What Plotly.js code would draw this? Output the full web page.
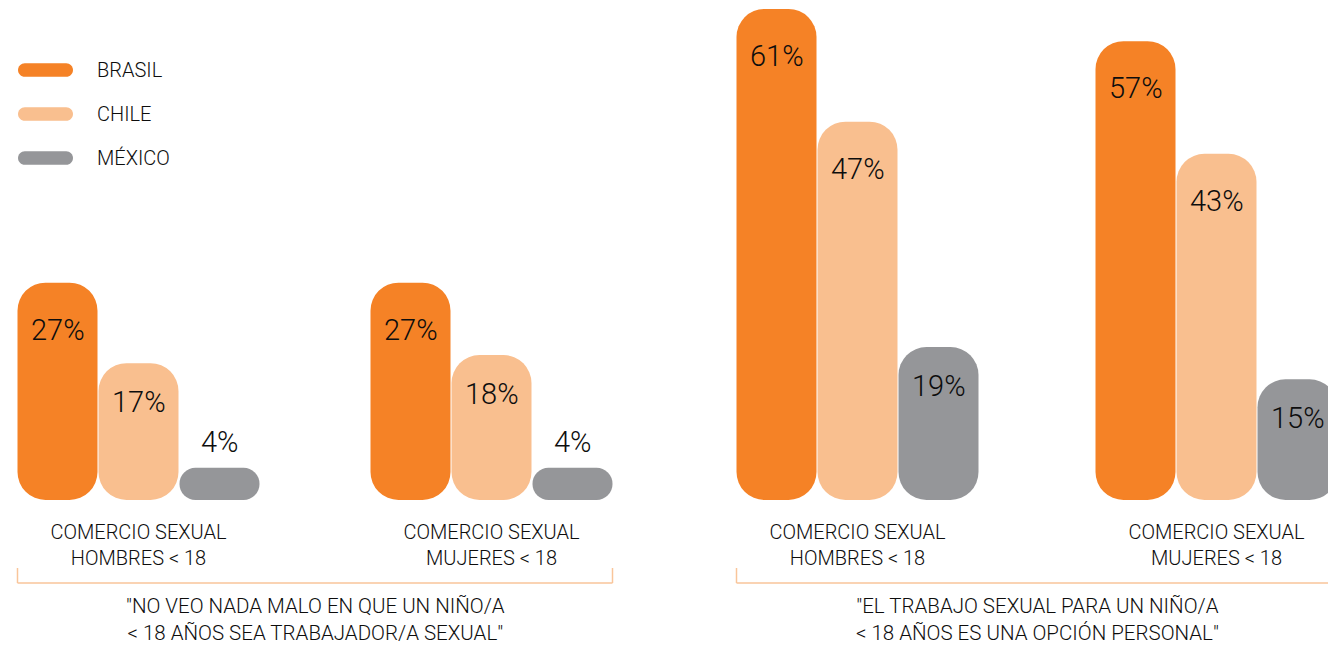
<!DOCTYPE html>
<html><head><meta charset="utf-8">
<script src="https://cdn.plot.ly/plotly-3.0.1.min.js"></script>
<style>html,body{margin:0;padding:0;background:#fff;}#chart{width:1328px;height:647px;}</style>
</head><body><div id="chart"></div>
<script>
// ---- data ----
const countries = ['BRASIL', 'CHILE', 'MÉXICO'];
const groupLabels = ['COMERCIO SEXUAL<br>HOMBRES &lt; 18', 'COMERCIO SEXUAL<br>MUJERES &lt; 18'];
const panelTitles = [
  '"NO VEO NADA MALO EN QUE UN NIÑO/A<br>&lt; 18 AÑOS SEA TRABAJADOR/A SEXUAL"',
  '"EL TRABAJO SEXUAL PARA UN NIÑO/A<br>&lt; 18 AÑOS ES UNA OPCIÓN PERSONAL"'
];
const brasilNoVeo = [27, 27];
const chileNoVeo = [17, 18];
const mexicoNoVeo = [4, 4];
const brasilOpcion = [61, 57];
const chileOpcion = [47, 43];
const mexicoOpcion = [19, 15];

// ---- style / layout ----
const colors = ['#F58226', '#F9BF8F', '#959699'];
const textColor = '#0d0d0d';
const bracketColor = '#F9C59A';
const FONT = 'Roboto, "Noto Sans", sans-serif';
const W = 1328, H = 647, mB = 147, plotH = H - mB;
const yPx = 8.05;                 // pixels per percentage point
const yMax = plotH / yPx;
const barW = 80, slotOff = [-121, -40, 41];
const panels = [
  { xa: 'x', key: 'xaxis', domain: [0, 0.5], c0: 138.5, c1: 491.5, series: [brasilNoVeo, chileNoVeo, mexicoNoVeo] },
  { xa: 'x2', key: 'xaxis2', domain: [0.5, 1], c0: 857.5, c1: 1216.5, series: [brasilOpcion, chileOpcion, mexicoOpcion] }
];

const traces = [];
const annotations = [];
const shapes = [];
const layout = {
  width: W, height: H,
  margin: { l: 0, r: 0, t: 0, b: mB, pad: 0 },
  paper_bgcolor: '#ffffff', plot_bgcolor: '#ffffff',
  barmode: 'overlay', showlegend: false, hovermode: false,
  yaxis: { range: [0, yMax], visible: false, fixedrange: true },
  font: { family: FONT, color: textColor }
};

panels.forEach((p, pi) => {
  const d0 = p.domain[0] * W, dw = (p.domain[1] - p.domain[0]) * W;
  const ppu = p.c1 - p.c0;
  const r0 = -(p.c0 - d0) / ppu;
  layout[p.key] = {
    type: 'category', domain: p.domain, range: [r0, r0 + dw / ppu],
    showgrid: false, zeroline: false, showline: false, ticks: '',
    tickfont: { family: FONT, size: 20, color: textColor, weight: 300 },
    ticklabelstandoff: 18, fixedrange: true, anchor: 'y'
  };
  p.series.forEach((vals, ci) => {
    // rounded both ends (pill); radius limited to half the shortest bar
    const r = Math.min(28, Math.min(...vals) * yPx / 2);
    traces.push({
      type: 'bar', x: groupLabels, y: vals, base: 0, xaxis: p.xa, yaxis: 'y', name: countries[ci],
      offset: slotOff[ci] / ppu, width: barW / ppu,
      marker: { color: colors[ci], cornerradius: r, line: { width: 0 } },
      hoverinfo: 'skip', showlegend: false
    });
    vals.forEach((v, i) => {
      const hPx = v * yPx;
      const inside = hPx > 40;
      annotations.push({
        xref: p.xa, yref: 'y', x: i + (slotOff[ci] + barW / 2) / ppu, y: v,
        text: v + '%', showarrow: false, xanchor: 'center', yanchor: 'middle',
        yshift: inside ? -(hPx < 170 ? 39 : 47) : 26,
        font: { family: FONT, size: 29, color: textColor, weight: 300 }
      });
    });
  });
  // bracket
  const xl = 0 + slotOff[0] / ppu, xr = 1 + (slotOff[2] + barW) / ppu;
  const ln = { color: bracketColor, width: 1.5 };
  shapes.push({ type: 'line', xref: p.xa, yref: 'paper', ysizemode: 'pixel', yanchor: 0, x0: xl, x1: xr, y0: -83, y1: -83, line: ln });
  shapes.push({ type: 'line', xref: p.xa, yref: 'paper', ysizemode: 'pixel', yanchor: 0, x0: xl, x1: xl, y0: -83, y1: -68, line: ln });
  shapes.push({ type: 'line', xref: p.xa, yref: 'paper', ysizemode: 'pixel', yanchor: 0, x0: xr, x1: xr, y0: -83, y1: -68, line: ln });
  annotations.push({
    xref: p.xa, yref: 'paper', x: 0.5, y: 0, yshift: -119, xanchor: 'center', yanchor: 'middle',
    text: panelTitles[pi], showarrow: false, align: 'center',
    font: { family: FONT, size: 20.5, color: textColor, weight: 300 }
  });
});

// custom legend (pill swatches)
function pill(hw, hh) {
  const k = 0.5523 * hh, a = hw - hh;
  return `M ${-a},${-hh} L ${a},${-hh} C ${a + k},${-hh} ${hw},${-k} ${hw},0 C ${hw},${k} ${a + k},${hh} ${a},${hh} ` +
         `L ${-a},${hh} C ${-a - k},${hh} ${-hw},${k} ${-hw},0 C ${-hw},${-k} ${-a - k},${-hh} ${-a},${-hh} Z`;
}
const legendY = [70, 114, 158];
countries.forEach((c, i) => {
  const yp = (plotH - legendY[i]) / plotH;
  shapes.push({
    type: 'path', xref: 'paper', yref: 'paper', xsizemode: 'pixel', ysizemode: 'pixel',
    xanchor: 45.5 / W, yanchor: yp, path: pill(27.5, 6.8),
    fillcolor: colors[i], line: { width: 0 }
  });
  annotations.push({
    xref: 'paper', yref: 'paper', x: 95 / W, y: yp, xanchor: 'left', yanchor: 'middle',
    text: c, showarrow: false, font: { family: FONT, size: 20, color: textColor, weight: 300 }
  });
});

layout.annotations = annotations;
layout.shapes = shapes;
Plotly.newPlot('chart', traces, layout, { displayModeBar: false, staticPlot: true });
</script>
</body></html>
